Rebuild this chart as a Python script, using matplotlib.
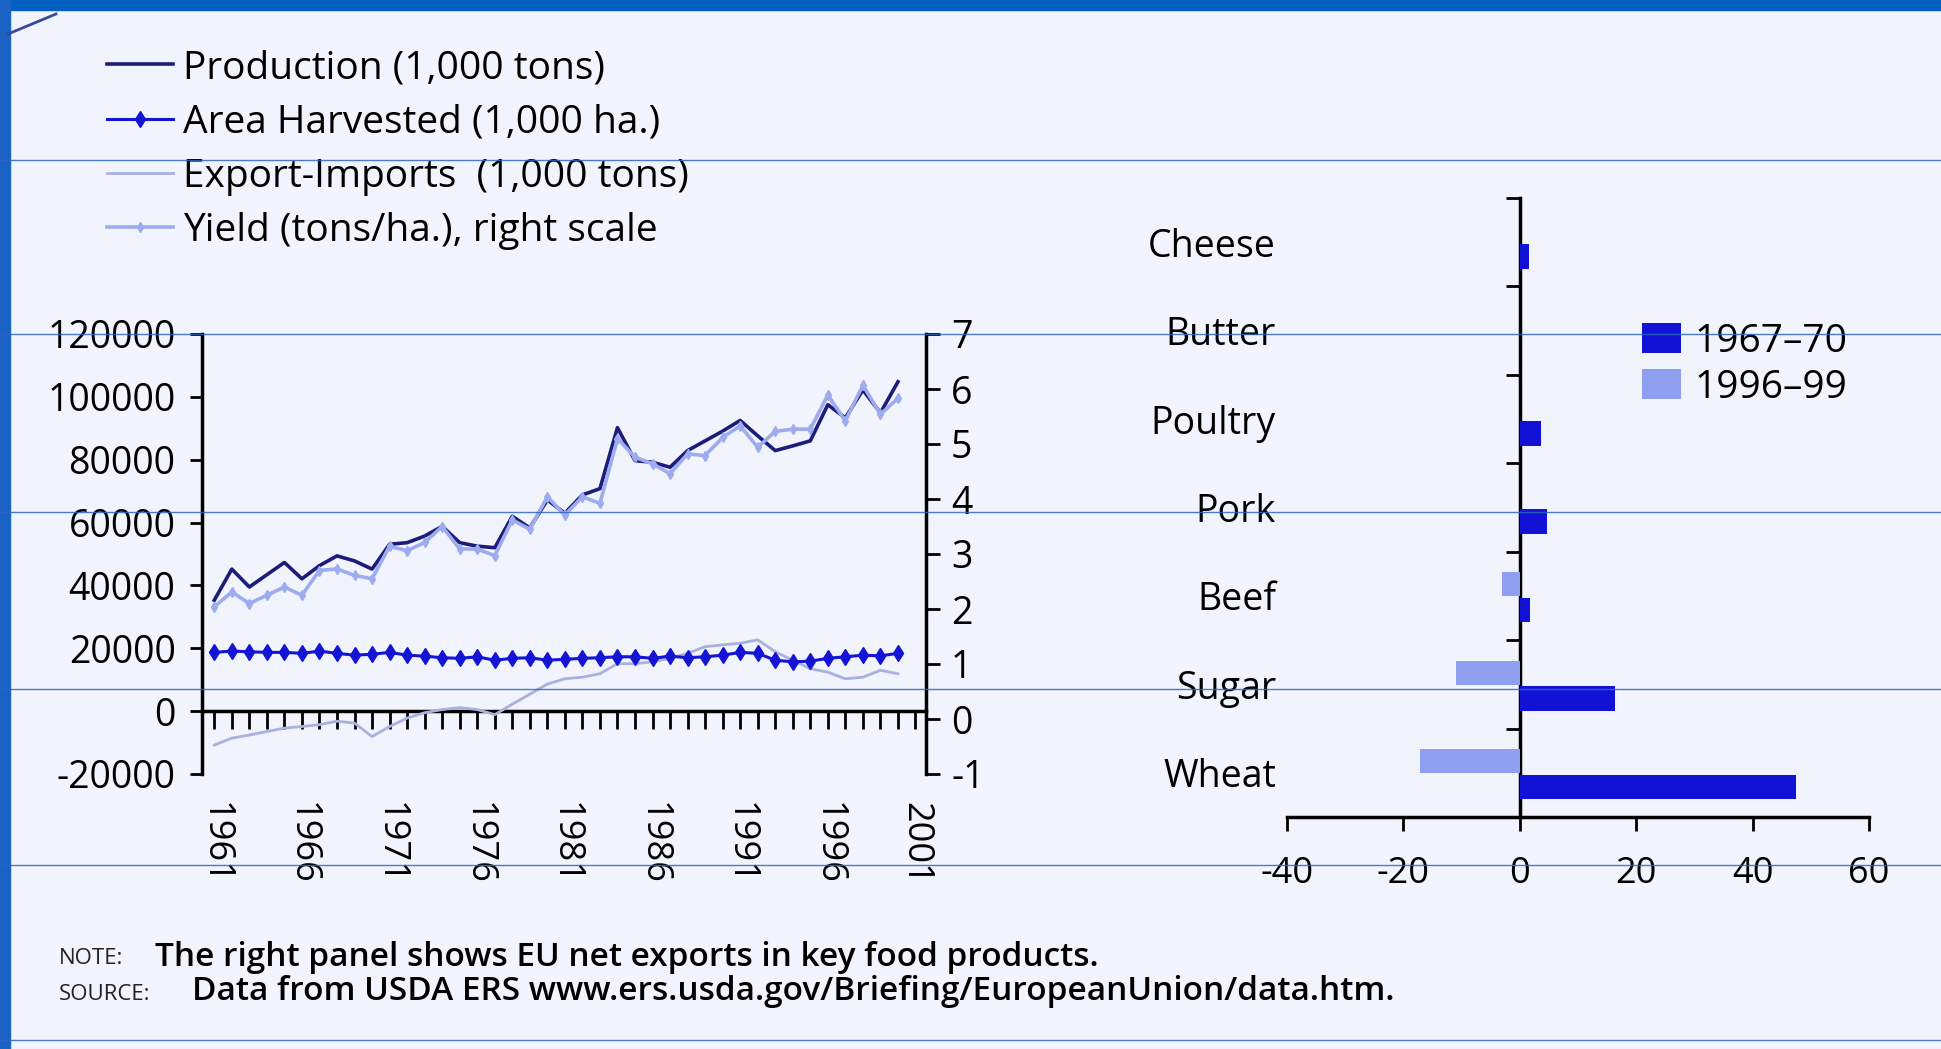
import matplotlib
matplotlib.use('Agg')
import matplotlib.pyplot as plt
import numpy as np
from matplotlib.lines import Line2D
from matplotlib.patches import Rectangle

plt.rcParams['font.family'] = ['Open Sans', 'DejaVu Sans']
plt.rcParams['axes.unicode_minus'] = False

# ---------------- data ----------------
years = list(range(1961, 2001))
production = [35300, 45200, 39500, 43400, 47300, 42100, 46300, 49400, 47800, 45200,
              53100, 53600, 55700, 58800, 53600, 52500, 52000, 62000, 58300, 67200,
              63000, 68800, 70800, 90200, 79700, 79200, 77600, 82900, 86000, 89100,
              92500, 87600, 82900, 84400, 86000, 97500, 93300, 102200, 94900, 104800]
area_harvested = [18700, 19100, 18900, 18700, 18700, 18400, 19100, 18400, 17800, 18100,
                  18700, 17800, 17500, 17000, 16800, 17300, 16200, 16800, 17000, 16200,
                  16500, 16800, 17000, 17300, 17300, 16800, 17500, 17000, 17300, 17800,
                  18700, 18400, 16200, 15700, 15900, 16800, 17300, 17800, 17600, 18400]
export_imports = [-10800, -8600, -7600, -6500, -5400, -4900, -4300, -3200, -3800, -8100,
                  -4900, -2200, -500, 500, 1100, 500, -1100, 2200, 5400, 8600,
                  10300, 10800, 11900, 15100, 15100, 15700, 16800, 18400, 20500, 21100,
                  21600, 22700, 18900, 16200, 13500, 12400, 10300, 10800, 13000, 11900]
yield_t_ha = [2.04, 2.31, 2.10, 2.25, 2.40, 2.25, 2.70, 2.73, 2.61, 2.55,
              3.14, 3.06, 3.21, 3.50, 3.09, 3.09, 2.97, 3.62, 3.45, 4.04,
              3.71, 4.04, 3.92, 5.10, 4.76, 4.64, 4.46, 4.82, 4.79, 5.12,
              5.33, 4.94, 5.23, 5.27, 5.27, 5.89, 5.42, 6.07, 5.54, 5.83]

left_ticks = [-20000, 0, 20000, 40000, 60000, 80000, 100000, 120000]
right_ticks = [-1, 0, 1, 2, 3, 4, 5, 6, 7]
year_labels = [1961, 1966, 1971, 1976, 1981, 1986, 1991, 1996, 2001]
minor_years = list(range(1961, 2002))

products = ['Cheese', 'Butter', 'Poultry', 'Pork', 'Beef', 'Sugar', 'Wheat']
net_1967_70 = [1.6, 0.0, 3.7, 4.7, 1.7, 16.4, 47.4]
net_1996_99 = [0.0, 0.0, 0.0, 0.0, -3.0, -11.0, -17.2]
bar_ticks = [-40, -20, 0, 20, 40, 60]

legend_labels = ['Production (1,000 tons)', 'Area Harvested (1,000 ha.)',
                 'Export-Imports  (1,000 tons)', 'Yield (tons/ha.), right scale']

# ---------------- figure ----------------
W, H = 1941, 1049
fig = plt.figure(figsize=(W / 100, H / 100), dpi=100, facecolor='#f1f4fc')

# ---- left panel ----
ax = fig.add_axes([202 / W, 1 - 774 / H, 724 / W, 440 / H])
ax.set_facecolor('none')
ax.set_xlim(1960.3, 2001.6)
ax.set_ylim(left_ticks[0], left_ticks[-1])

l_exp, = ax.plot(years, export_imports, color='#a9b1de', lw=2.0, zorder=3)
l_prod, = ax.plot(years, production, color='#1c1c7a', lw=2.6, zorder=4)
l_area, = ax.plot(years, area_harvested, color='#1414d4', lw=2.2, marker='d',
                  ms=8, zorder=5)

ax2 = ax.twinx()
ax2.set_ylim(right_ticks[0], right_ticks[-1])
l_yield, = ax2.plot(years, yield_t_ha, color='#9dabef', lw=2.6, marker='d', ms=5,
                    zorder=2)

for s in ['top', 'bottom', 'right']:
    ax.spines[s].set_visible(False)
ax.spines['left'].set_linewidth(2.5)
for s in ['top', 'bottom', 'left']:
    ax2.spines[s].set_visible(False)
ax2.spines['right'].set_linewidth(2.5)

ax.set_yticks(left_ticks)
ax.set_yticklabels([str(v) for v in left_ticks])
ax.tick_params(axis='y', direction='out', length=9, width=2, labelsize=27, pad=10)
ax.set_xticks(year_labels)
ax.set_xticklabels([str(y) for y in year_labels], rotation=-90)
ax.tick_params(axis='x', length=0, labelsize=26, pad=20)

ax2.set_yticks(right_ticks)
ax2.tick_params(axis='y', direction='out', length=10, width=2, labelsize=27, pad=8)

# zero line with yearly tick marks
ylo, yhi = ax.get_ylim()
zero_frac = (0 - ylo) / (yhi - ylo)
sec = ax.secondary_xaxis(zero_frac)
sec.set_xticks(minor_years)
sec.tick_params(axis='x', direction='out', length=13, width=2,
                labelbottom=False, labeltop=False)
sec.spines['bottom'].set_linewidth(2.5)

# ---- right panel ----
axb = fig.add_axes([1287 / W, 1 - 817 / H, 582 / W, 619 / H])
axb.set_facecolor('none')
n = len(products)
idx = np.arange(n)
axb.barh(idx + 0.16, net_1967_70, height=0.28, color='#1212d6', label='1967–70')
axb.barh(idx - 0.13, net_1996_99, height=0.27, color='#8e9ff0', label='1996–99')
axb.set_ylim(n - 0.5, -0.5)
axb.set_xlim(bar_ticks[0], bar_ticks[-1])
axb.set_yticks(idx)
axb.set_yticklabels(products)
axb.tick_params(axis='y', length=0, labelsize=27, pad=8)
axb.set_xticks(bar_ticks)
axb.tick_params(axis='x', direction='out', length=10, width=2, labelsize=26, pad=18)
for s in ['top', 'right', 'left']:
    axb.spines[s].set_visible(False)
axb.spines['bottom'].set_linewidth(2.5)

xlo, xhi = axb.get_xlim()
secy = axb.secondary_yaxis((0 - xlo) / (xhi - xlo))
secy.set_yticks(list(idx[:-1] + 0.5) + [-0.5])
secy.tick_params(axis='y', direction='out', length=10, width=2,
                 labelleft=False, labelright=False)
secy.spines['left'].set_linewidth(2.5)

axb.legend(loc='upper left', bbox_to_anchor=(0.55, 0.855), frameon=False,
           fontsize=28, handlelength=1.0, handleheight=0.8, handletextpad=0.35,
           labelspacing=0.2)

# ---- top-left legend ----
fig.legend([l_prod, l_area, l_exp, l_yield], legend_labels, loc='upper left',
           bbox_to_anchor=(72 / W, 1 - 14 / H), frameon=False, fontsize=28,
           handlelength=1.7, handletextpad=0.25, labelspacing=0.42)

# ---- note / source ----
fig.text(59 / W, 1 - 959 / H, 'NOTE:', fontsize=16, va='center', color='#222222')
fig.text(155 / W, 1 - 957 / H, 'The right panel shows EU net exports in key food products.',
         fontsize=24, va='center', fontweight='semibold')
fig.text(59 / W, 1 - 994 / H, 'SOURCE:', fontsize=16, va='center', color='#222222')
fig.text(192 / W, 1 - 992 / H, 'Data from USDA ERS www.ers.usda.gov/Briefing/EuropeanUnion/data.htm.',
         fontsize=24, va='center', fontweight='semibold')

# ---- slide frame decorations ----
fig.add_artist(Rectangle((0, 1 - 10 / H), 1, 10 / H, transform=fig.transFigure,
                         color='#0061c2', zorder=30))
fig.add_artist(Rectangle((0, 0), 10 / W, 1, transform=fig.transFigure,
                         color='#1a62c4', zorder=30))
fig.add_artist(Line2D([8 / W, 56 / W], [1 - 34 / H, 1 - 14 / H], transform=fig.transFigure,
                      color='#3a4a9a', lw=2.0, zorder=30))
for yy in [160, 334, 512, 689, 865, 1040]:
    fig.add_artist(Line2D([0, 1], [1 - yy / H] * 2, transform=fig.transFigure,
                          color='#2a66c0', lw=1.0, zorder=30, alpha=0.85))

fig.savefig('out.png', dpi=100, facecolor=fig.get_facecolor())
